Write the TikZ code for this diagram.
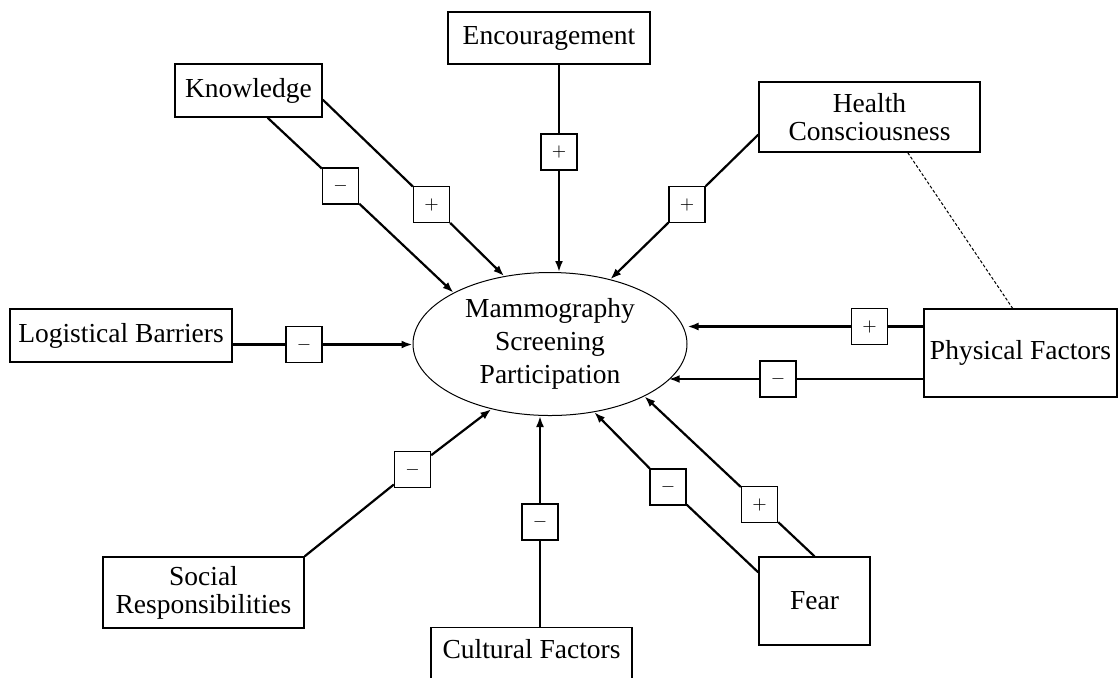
\documentclass[tikz,border=0pt]{standalone}
\usepackage{fontspec}
\setmainfont{Liberation Serif}
\usepackage{tikz}
\usetikzlibrary{arrows.meta, shapes.geometric}

\begin{document}
\begin{tikzpicture}[x = 0.5pt, y = -0.5pt,
		font = \fontsize{13.75}{14}\selectfont,
		factor/.style = {draw, line width = 0.7pt, align = center, inner sep = 2pt},
		sign/.style = {draw, line width = 0.7pt, minimum size = 18pt, inner sep = 0pt, font = \fontsize{9.5}{10}\selectfont},
		arr/.style = {line width = 1.1pt, -{Latex[length = 5.5pt, width = 4pt]}}]
				\useasboundingbox (0, 0) rectangle (1120, 677);
				\clip (0, 0) rectangle (1120, 677);
				% centre
				\node[ellipse, draw, line width = 0.5pt, minimum width = 137pt, minimum height = 71.5pt, inner sep = 0pt, align = center, font = \fontsize{13.75}{16.5}\selectfont] (msp) at (550, 344) {Mammography\\Screening\\Participation};
				% factors
				\node[factor, minimum width = 101pt, minimum height = 26pt] (enc) at (549, 38) {Encouragement};
				\node[factor, minimum width = 73.5pt, minimum height = 26.5pt] (know) at (248.5, 90.5) {Knowledge};
				\node[factor, minimum width = 110.5pt, minimum height = 35pt] (health) at (869.5, 117) {Health\\Consciousness};
				\node[factor, minimum width = 111pt, minimum height = 26.5pt] (logi) at (121, 335.5) {Logistical Barriers};
				\node[factor, minimum width = 96.5pt, minimum height = 44pt] (phys) at (1020.5, 353) {Physical Factors};
				\node[factor, minimum width = 100.5pt, minimum height = 35.5pt] (social) at (203.5, 592.5) {Social\\Responsibilities};
				\node[factor, minimum width = 100.5pt, text height = 12.5pt, text depth = 20pt, inner ysep = 3pt, anchor = north] (cult) at (531.5, 627) {Cultural Factors};
				\node[factor, minimum width = 55.5pt, minimum height = 44pt] (fear) at (814.5, 601) {Fear};
				% signs
				\node[sign] (kminus) at (340.5, 186) {$-$};
				\node[sign] (kplus) at (431.5, 204.5) {$+$};
				\node[sign] (eplus) at (559, 152) {$+$};
				\node[sign] (hplus) at (687, 204.5) {$+$};
				\node[sign] (lminus) at (304, 344.5) {$-$};
				\node[sign] (pplus) at (869.5, 326.5) {$+$};
				\node[sign] (pminus) at (778, 379) {$-$};
				\node[sign] (sminus) at (412.5, 469.5) {$-$};
				\node[sign] (cminus) at (540, 522) {$-$};
				\node[sign] (fminus) at (668, 487) {$-$};
				\node[sign] (fplus) at (759.5, 504.5) {$+$};
				% knowledge
				\draw[arr] (know.-55) -- (kminus) -- (msp.152);
				\draw[arr] (know.-7) -- (kplus) -- (msp.124);
				% encouragement
				\draw[arr] (eplus |- enc.south) -- (eplus) -- (eplus |- msp.north);
				% health
				\draw[arr] (health.189) -- (hplus) -- (msp.47);
				\draw[line width = 0.5pt, dash pattern = on 1.5pt off 1pt] (health.-43) -- (phys.100);
				% logistical
				\draw[arr] (logi.east |- lminus) -- (lminus) -- (lminus -| msp.west);
				% physical
				\draw[arr] (phys.west |- pplus) -- (pplus) -- (pplus -| msp.east);
				\draw[arr] (phys.west |- pminus) -- (pminus) -- (pminus -| msp.-17);
				% social
				\draw[arr] (social.north east) -- (sminus) -- (msp.-132);
				% cultural
				\draw[arr] (cminus |- cult.north) -- (cminus) -- (cminus |- msp.south);
				% fear
				\draw[arr] (fear.153) -- (fminus) -- (msp.-57);
				\draw[arr] (fear.north) -- (fplus) -- (msp.-29);
\end{tikzpicture}
\end{document}
